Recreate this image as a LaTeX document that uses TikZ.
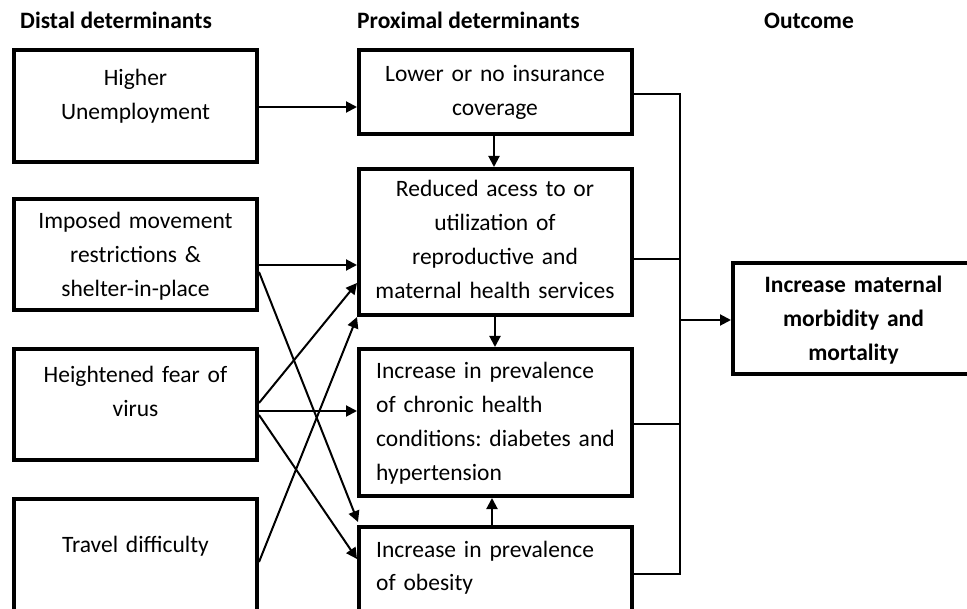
\documentclass[tikz,border=0pt]{standalone}
\usepackage{fontspec}
\setmainfont{Carlito}
\usetikzlibrary{arrows.meta}
\frenchspacing
\begin{document}
\begin{tikzpicture}[x=1pt,y=-1pt,
  box/.style={draw, line width=4pt, inner sep=0pt, rectangle},
  txt/.style={inner sep=0pt, anchor=base, font=\fontsize{23.5}{33.7}\selectfont},
  ctxt/.style={txt, text width=236pt, align=center},
  ltxt/.style={txt, anchor=base west, text width=250pt, align=left},
  hdr/.style={inner sep=0pt, anchor=base west, font=\fontsize{23.5}{28}\selectfont\bfseries},
  arr/.style={line width=2pt, -{Triangle[length=11pt,width=11pt]}},
  bus/.style={line width=2.6pt}]
\useasboundingbox (0,0) rectangle (967,609);
\clip (0,0) rectangle (967,609);
\fill[white] (0,0) rectangle (967,609);

% headers
\node[hdr] (h1) at (20,29) {Distal determinants};
\node[hdr] (h2) at (357,29) {Proximal determinants};
\node[hdr] (h3) at (764,29) {Outcome};

% boxes
\node[box, minimum width=243pt, minimum height=112pt] (L1) at (135.5,106) {};
\node[box, minimum width=243pt, minimum height=111pt] (L2) at (135.5,254.5) {};
\node[box, minimum width=243pt, minimum height=111pt] (L3) at (135.5,404.5) {};
\node[box, minimum width=243pt, minimum height=141pt] (L4) at (135.5,569.5) {};
\node[box, minimum width=273pt, minimum height=84pt] (M1) at (495.5,92) {};
\node[box, minimum width=273pt, minimum height=146pt] (M2) at (495.5,242) {};
\node[box, minimum width=273pt, minimum height=147pt] (M3) at (495.5,422.5) {};
\node[box, minimum width=273pt, minimum height=113pt] (M4) at (495.5,583.5) {};
\node[box, minimum width=241pt, minimum height=111pt] (R) at (853.5,318.5) {};

% texts
\node[ctxt] (t1) at (135.5,86) {Higher\\Unemployment};
\node[ctxt] (t2) at (135.5,229) {Imposed movement\\restrictions \&\\shelter-in-place};
\node[ctxt] (t3) at (135.5,383) {Heightened fear of\\virus};
\node[ctxt] (t4) at (135.5,552) {Travel difficulty};
\node[ctxt, text width=265pt] (t5) at (495,82) {Lower or no insurance\\coverage};
\node[ctxt, text width=265pt] (t6) at (495,197) {Reduced acess to or\\utilization of\\reproductive and\\maternal health services};
\node[ltxt] (t7) at (376,379) {Increase in prevalence\\of chronic health\\conditions: diabetes and\\hypertension};
\node[ltxt] (t8) at (376,557) {Increase in prevalence\\of obesity};
\node[ctxt, font=\fontsize{23.5}{33.7}\selectfont\bfseries] (t9) at (853.5,293) {Increase maternal\\morbidity and\\mortality};

% distal -> proximal arrows
\draw[arr] (L1.east |- 0,107) -- (M1.west |- 0,107);
\draw[arr] (L2.east |- 0,265) -- (M2.west |- 0,265);
\draw[arr] (L2.east |- 0,272) -- ([shift={(1,-3)}]M4.north west);
\draw[arr] (L3.east |- 0,403) -- (M2.west |- 0,283);
\draw[arr] (L3.east |- 0,411) -- (M3.west |- 0,411);
\draw[arr] (L3.east |- 0,415) -- (M4.west |- 0,559);
\draw[arr] (L4.east |- 0,562) -- (M2.south west);

% vertical arrows
\draw[arr] (M1.south -| 494,0) -- (M2.north -| 494,0);
\draw[arr] (M2.south -| 495,0) -- (M3.north -| 495,0);
\draw[arr] (M4.north -| 492,0) -- (M3.south -| 492,0);

% bus
\coordinate (bt) at (680,94);
\coordinate (b2) at (680,259);
\coordinate (bo) at (680,320);
\coordinate (b3) at (680,424);
\coordinate (bb) at (680,574);
\draw[bus] (M1.east |- bt) -- (bt) -- (bb) -- (M4.east |- bb);
\draw[bus] (M2.east |- b2) -- (b2);
\draw[bus] (M3.east |- b3) -- (b3);
\draw[arr] (bo) -- (R.west |- bo);
\end{tikzpicture}
\end{document}
